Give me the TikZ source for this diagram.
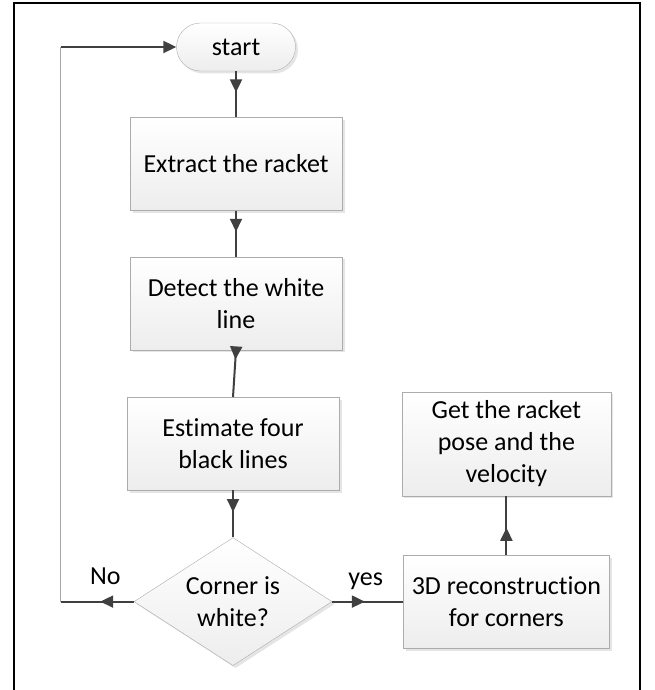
\documentclass[tikz,border=0pt]{standalone}
\usepackage{fontspec}
\setmainfont{Carlito}[Ligatures=NoCommon]
\usetikzlibrary{arrows.meta,positioning,shapes.geometric,shadows,decorations.markings}

\begin{document}
\begin{tikzpicture}[x=1pt,y=-1pt,node distance=46pt,font=\fontsize{26}{32}\selectfont]
\tikzstyle{box}=[draw=gray!65,top color=white,bottom color=gray!14,drop shadow={shadow xshift=2.5pt,shadow yshift=-2.5pt,fill=gray!40},align=center,inner sep=2pt,minimum width=212pt,minimum height=93pt]
\tikzstyle{line}=[draw=black!75,line width=2pt]
\tikzstyle{flow}=[line,postaction={decorate},decoration={markings,mark=at position 0.46 with {\arrow[black!75]{Triangle[length=13pt,width=12pt]}}}]
\useasboundingbox (0,0) rectangle (655,690);
\draw[line width=2pt] (14,690) -- (14,3) -- (640,3) -- (640,690);

\node[box,rounded corners=24pt,minimum width=119pt,minimum height=48pt] (start) at (236,47) {start};
\node[box,below=of start] (extract) {Extract the racket};
\node[box,below=of extract] (detect) {Detect the white\\line};
\node[box,below=47pt of detect,xshift=-3pt] (estimate) {Estimate four\\black lines};
\node[box,diamond,aspect=1.55,inner sep=0pt,minimum width=198pt,minimum height=128pt,below=47pt of estimate] (corner) {Corner is\\white?};
\node[box,right=71pt of corner,minimum width=206pt] (recon) {3D reconstruction\\for corners};
\node[box,above=59pt of recon,minimum width=209pt,minimum height=104pt] (pose) {Get the racket\\pose and the\\velocity};

\coordinate (loopb) at ([xshift=-73pt]corner.west);
\coordinate (loopt) at (loopb |- start.west);

\draw[flow] (start) -- (extract);
\draw[flow] (extract) -- (detect);
\draw[line,postaction={decorate},decoration={markings,mark=at position 0.2 with {\arrow[black!75]{Triangle[length=13pt,width=12pt]}}}] (detect.south) -- (estimate.north);
\draw[flow] (estimate) -- (corner);
\draw[flow] (corner.west) -- node[above=13pt,xshift=8pt]{No} (loopb);
\draw[draw=gray!70,line width=1.2pt] (loopb) -- (loopt);
\draw[line,-{Triangle[length=13pt,width=12pt]}] (loopt) -- (start.west);
\draw[flow] (corner.east) -- node[above=8pt,xshift=-2pt]{yes} (recon.west);
\draw[flow] (recon) -- (pose);
\end{tikzpicture}
\end{document}
